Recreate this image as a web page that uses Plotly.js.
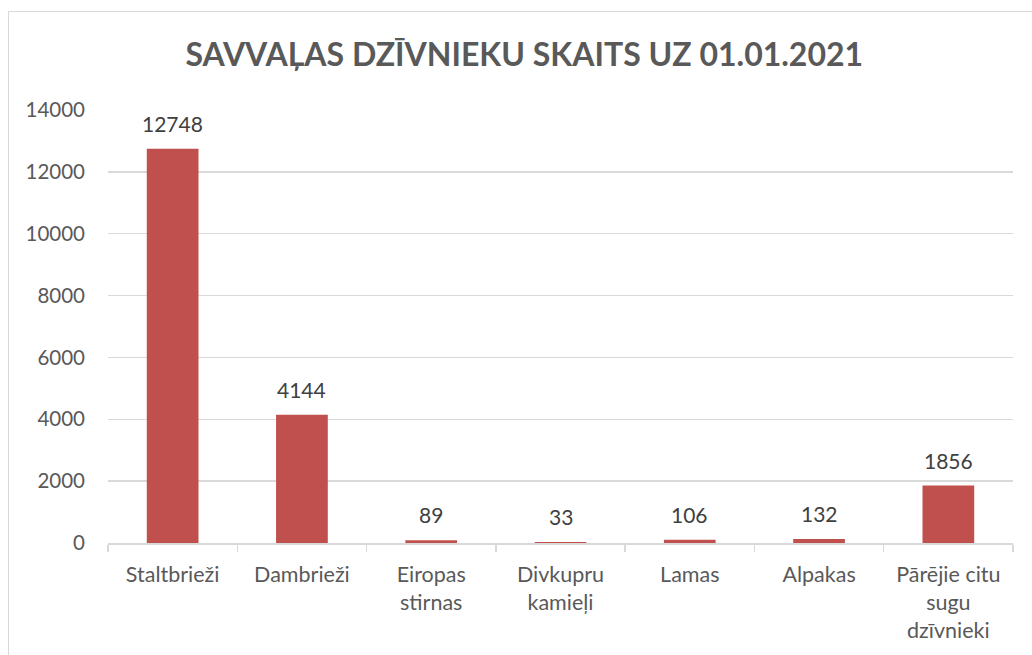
<!DOCTYPE html>
<html>
<head>
<meta charset="utf-8">
<script src="https://cdn.plot.ly/plotly-3.0.1.min.js"></script>
<style>
html,body{margin:0;padding:0;background:#fff;}
#wrap{position:relative;width:1032px;height:655px;overflow:hidden;}
#chart{position:absolute;left:0;top:0;width:1032px;height:655px;}
#frame{position:absolute;left:8px;top:11px;width:1040px;height:660px;border-left:1.5px solid #d9d9d9;border-top:1.5px solid #d9d9d9;pointer-events:none;}
</style>
</head>
<body>
<div id="wrap"><div id="chart"></div><div id="frame"></div></div>
<script>
const categories = ["Staltbrieži", "Dambrieži", "Eiropas<br>stirnas", "Divkupru<br>kamieļi", "Lamas", "Alpakas", "Pārējie citu<br>sugu<br>dzīvnieki"];
const values = [12748, 4144, 89, 33, 106, 132, 1856];
const yTicks = [0, 2000, 4000, 6000, 8000, 10000, 12000, 14000];
const chartTitle = "SAVVAĻAS DZĪVNIEKU SKAITS UZ 01.01.2021";

const FONT = "Lato, 'Open Sans', sans-serif";

const trace = {
  type: "bar",
  x: categories,
  y: values,
  marker: {color: "#C0504D"},
  hoverinfo: "none"
};

const annotations = categories.map((c, i) => ({
  x: c, y: values[i], xref: "x", yref: "y",
  text: String(values[i]), showarrow: false,
  yanchor: "bottom", yshift: 11,
  font: {family: FONT, size: 21, color: "#404040"}
}));

const layout = {
  width: 1032, height: 655,
  margin: {l: 108, r: 19, t: 110, b: 112},
  paper_bgcolor: "#ffffff", plot_bgcolor: "#ffffff",
  bargap: 0.6,
  showlegend: false,
  title: {
    text: "<b>" + chartTitle + "</b>",
    x: 0.508, xanchor: "center", y: 0.917, yanchor: "middle",
    font: {family: FONT, size: 32, color: "#595959"}
  },
  xaxis: {
    type: "category",
    showgrid: false,
    showline: true, linecolor: "#d9d9d9", linewidth: 1.5,
    ticks: "outside", tickson: "boundaries", ticklen: 7, tickcolor: "#d9d9d9", tickwidth: 1.5,
    ticklabelstandoff: 12,
    tickfont: {family: FONT, size: 21.5, color: "#595959"},
    fixedrange: true
  },
  yaxis: {
    range: [0, 14000],
    tickvals: yTicks,
    ticktext: yTicks.map(String),
    showgrid: true, gridcolor: "#d9d9d9", gridwidth: 1.5,
    zeroline: false, showline: false, ticks: "",
    ticklabelstandoff: 22,
    tickfont: {family: FONT, size: 20.5, color: "#595959"},
    fixedrange: true
  },
  annotations: annotations,
  font: {family: FONT}
};

Plotly.newPlot("chart", [trace], layout, {displayModeBar: false, staticPlot: true});
</script>
</body>
</html>
